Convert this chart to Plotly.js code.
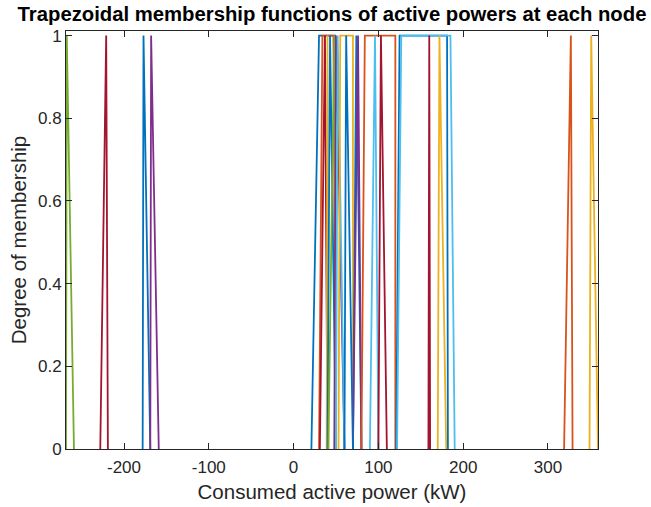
<!DOCTYPE html>
<html>
<head>
<meta charset="utf-8">
<script src="https://cdn.plot.ly/plotly-3.0.1.min.js"></script>
<style>
  html, body { margin: 0; padding: 0; background: #ffffff; }
  #chart { width: 651px; height: 507px; }
</style>
</head>
<body>
<div id="chart"></div>
<script>
// Trapezoid corner points (kW) for each node: [a, b, c, d] -> membership [0, 1, 1, 0]
const nodeNames = ["N1","N2","N3","N4","N5","N6","N7","N8","N9","N10","N11","N12","N13","N14","N15","N16","N17","N18","N19","N20","N21","N22","N23","N24","N25"];
const aVals = [-268.4, -228, -178, -169, 21, 30, 31, 39, 40, 41, 48, 50, 53, 70, 70, 80, 90, 100, 121, 122, 159, 170, 319, 349, 60];
const bVals = [-267.5, -221, -177, -168, 30, 34, 37, 40, 43, 48, 50, 52, 55, 74, 76, 84, 96, 103, 125, 127, 160, 172, 327, 351, 62];
const cVals = [-267.5, -221, -177, -168, 49, 47, 37, 40, 43, 48, 50, 52, 70, 74, 76, 120, 96, 103, 181, 185, 160, 172, 327, 351, 62];
const dVals = [-259, -219, -169, -159, 50, 50, 40, 41, 50, 50, 60, 60, 70, 80, 80, 120, 100, 110, 182, 190, 161, 180, 329, 359, 70];
const memberY = [0, 1, 1, 0];

const xTicks = [-200, -100, 0, 100, 200, 300];
const yTicks = [0, 0.2, 0.4, 0.6, 0.8, 1];

// MATLAB-like default colour order (style only)
const C = {blue:"#0072BD", orange:"#D95319", yellow:"#EDB120", purple:"#7E2F8E", green:"#77AC30", lblue:"#4DBEEE", dred:"#A2142F"};
const lineColors = [C.green, C.dred, C.blue, C.purple, C.blue, C.orange, C.dred, C.yellow, C.blue, C.green, C.purple, C.lblue, C.yellow, C.blue, C.purple, C.orange, C.lblue, C.dred, C.blue, C.lblue, C.dred, C.yellow, C.orange, C.yellow, C.blue];

const traces = nodeNames.map((n, i) => ({
  type: "scatter",
  mode: "lines",
  name: n,
  x: [aVals[i], bVals[i], cVals[i], dVals[i]],
  y: memberY,
  line: {color: lineColors[i], width: 1.8},
  hoverinfo: "x+y+name"
}));

const font = "Liberation Sans, Arial, Helvetica, sans-serif";
const axisCol = "#262626";

const layout = {
  width: 651,
  height: 507,
  paper_bgcolor: "#ffffff",
  plot_bgcolor: "#ffffff",
  showlegend: false,
  margin: {l: 66, r: 53, t: 31, b: 58, pad: 0},
  font: {family: font, color: axisCol, size: 17},
  title: {
    text: "Trapezoidal membership functions of active powers at each node",
    font: {family: font, size: 20.3, color: "#000000", weight: 700},
    x: 0.5, xref: "paper", xanchor: "center",
    y: 1 - 14/507, yref: "container", yanchor: "middle"
  },
  xaxis: {
    range: [-268.4, 359],
    tickvals: xTicks,
    ticktext: xTicks.map(String),
    ticks: "inside",
    ticklen: 6,
    tickwidth: 1,
    tickcolor: axisCol,
    showline: true,
    linecolor: axisCol,
    linewidth: 1,
    mirror: "ticks",
    showgrid: false,
    zeroline: false,
    ticklabelstandoff: 3,
    tickfont: {family: font, size: 17, color: axisCol},
    title: {text: "Consumed active power (kW)", font: {family: font, size: 20.5, color: axisCol}, standoff: 8}
  },
  yaxis: {
    range: [0, 1.011],
    tickvals: yTicks,
    ticktext: yTicks.map(String),
    ticks: "inside",
    ticklen: 6,
    tickwidth: 1,
    tickcolor: axisCol,
    showline: true,
    linecolor: axisCol,
    linewidth: 1,
    mirror: "ticks",
    showgrid: false,
    zeroline: false,
    tickfont: {family: font, size: 17, color: axisCol},
    title: {text: "Degree of membership", font: {family: font, size: 20.5, color: axisCol}, standoff: 5}
  }
};

Plotly.newPlot("chart", traces, layout, {displayModeBar: false, staticPlot: true});
</script>
</body>
</html>
